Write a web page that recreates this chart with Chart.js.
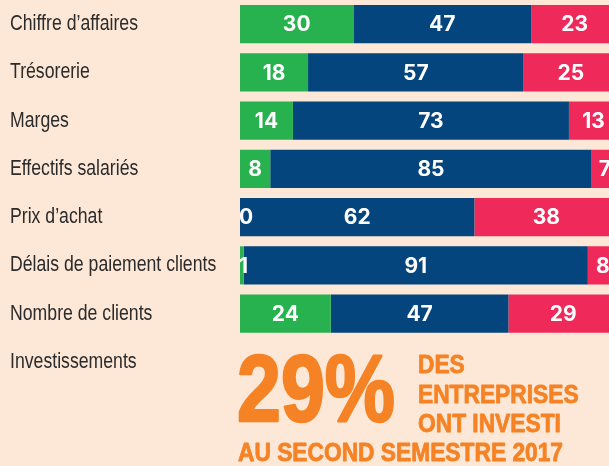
<!DOCTYPE html>
<html>
<head>
<meta charset="utf-8">
<script src="https://cdn.jsdelivr.net/npm/chart.js@4/dist/chart.umd.min.js"></script>
<style>
  html, body { margin: 0; padding: 0; background: #FDE8D7; overflow: hidden; }
  canvas { display: block; }
</style>
</head>
<body>
<canvas id="c" width="609" height="466"></canvas>
<script>
// ---- data ----
const categories = [
  "Chiffre d’affaires",
  "Trésorerie",
  "Marges",
  "Effectifs salariés",
  "Prix d’achat",
  "Délais de paiement clients",
  "Nombre de clients",
  "Investissements"
];
const hausse = [30, 18, 14, 8, 0, 1, 24, null];
const stable = [47, 57, 73, 85, 62, 91, 47, null];
const baisse = [23, 25, 13, 7, 38, 8, 29, null];

const investPct = 29;
const investLines = ["DES", "ENTREPRISES", "ONT INVESTI"];
const investFooter = "AU SECOND SEMESTRE 2017";

// ---- styles ----
const BG = "#FDE8D7";
const GREEN = "#27B24F";
const BLUE = "#03457C";
const RED = "#EF2A5B";
const ORANGE = "#F58325";
const LABEL_FONT = "'Liberation Sans Narrow', 'Arial Narrow', 'Liberation Sans', sans-serif";
const NARROW_BOLD = "'Liberation Sans Narrow', 'Arial Narrow', 'Liberation Sans', sans-serif";

const bgPlugin = {
  id: "bg",
  beforeDraw(chart) {
    const ctx = chart.ctx;
    ctx.save();
    ctx.fillStyle = BG;
    ctx.fillRect(0, 0, chart.width, chart.height);
    ctx.restore();
  }
};

// category labels on the left, drawn at the y scale's category positions
const categoryLabels = {
  id: "categoryLabels",
  afterDraw(chart) {
    const ctx = chart.ctx;
    const y = chart.scales.y;
    ctx.save();
    ctx.font = "22px " + LABEL_FONT;
    ctx.fillStyle = "#2B2B2B";
    ctx.textAlign = "left";
    ctx.textBaseline = "middle";
    const sx = 128 / ctx.measureText(categories[0]).width;
    chart.data.labels.forEach((lab, i) => {
      const py = y.getPixelForValue(i);
      ctx.save();
      ctx.translate(10, py);
      ctx.scale(sx, 1);
      ctx.fillText(lab, 0, 0);
      ctx.restore();
    });
    ctx.restore();
  }
};

const valueLabels = {
  id: "valueLabels",
  afterDatasetsDraw(chart) {
    const ctx = chart.ctx;
    const left = chart.chartArea.left;
    ctx.save();
    ctx.font = "700 21px Inter, 'Open Sans', sans-serif";
    ctx.fillStyle = "#FFFFFF";
    ctx.textAlign = "center";
    ctx.textBaseline = "middle";
    chart.data.datasets.forEach((ds, di) => {
      const meta = chart.getDatasetMeta(di);
      meta.data.forEach((el, i) => {
        const v = ds.data[i];
        if (v === null || v === undefined) return;
        const txt = String(v);
        const w = ctx.measureText(txt).width;
        let cx = (el.x + el.base) / 2;
        if (cx - w / 2 < left - 1) cx = left - 1 + w / 2;
        ctx.fillText(txt, cx, el.y + 1);
      });
    });
    ctx.restore();
  }
};

function drawScaled(ctx, text, x, y, sx, stroke) {
  ctx.save();
  ctx.translate(x, y);
  ctx.scale(sx, 1);
  if (stroke) {
    ctx.lineWidth = stroke;
    ctx.lineJoin = "round";
    ctx.strokeText(text, 0, 0);
  }
  ctx.fillText(text, 0, 0);
  ctx.restore();
}

const investPlugin = {
  id: "invest",
  afterDraw(chart) {
    const ctx = chart.ctx;
    ctx.save();
    ctx.fillStyle = ORANGE;
    ctx.strokeStyle = ORANGE;
    ctx.textAlign = "left";
    ctx.textBaseline = "alphabetic";
    ctx.font = "bold 95px " + NARROW_BOLD;
    const big = investPct + "%";
    drawScaled(ctx, big, 237, 421, 158 / ctx.measureText(big).width, 2.5);
    ctx.font = "bold 25px " + NARROW_BOLD;
    const sx = 325 / ctx.measureText(investFooter).width;
    const ys = [373, 403, 432];
    investLines.forEach((t, i) => drawScaled(ctx, t, 418, ys[i], sx, 0.8));
    drawScaled(ctx, investFooter, 238, 461, sx, 0.8);
    ctx.restore();
  }
};

new Chart(document.getElementById("c"), {
  type: "bar",
  data: {
    labels: categories,
    datasets: [
      { label: "Hausse", data: hausse, backgroundColor: GREEN },
      { label: "Stable", data: stable, backgroundColor: BLUE },
      { label: "Baisse", data: baisse, backgroundColor: RED }
    ]
  },
  options: {
    indexAxis: "y",
    responsive: false,
    animation: false,
    devicePixelRatio: 1,
    layout: { padding: { left: 240, top: 0, right: 0, bottom: 80 } },
    datasets: { bar: { categoryPercentage: 1, barPercentage: 0.79, borderWidth: 0 } },
    plugins: { legend: { display: false }, tooltip: { enabled: false } },
    scales: {
      x: { stacked: true, display: false, min: 0, max: 97.6 },
      y: { stacked: true, display: false }
    }
  },
  plugins: [bgPlugin, valueLabels, categoryLabels, investPlugin]
});
</script>
</body>
</html>
